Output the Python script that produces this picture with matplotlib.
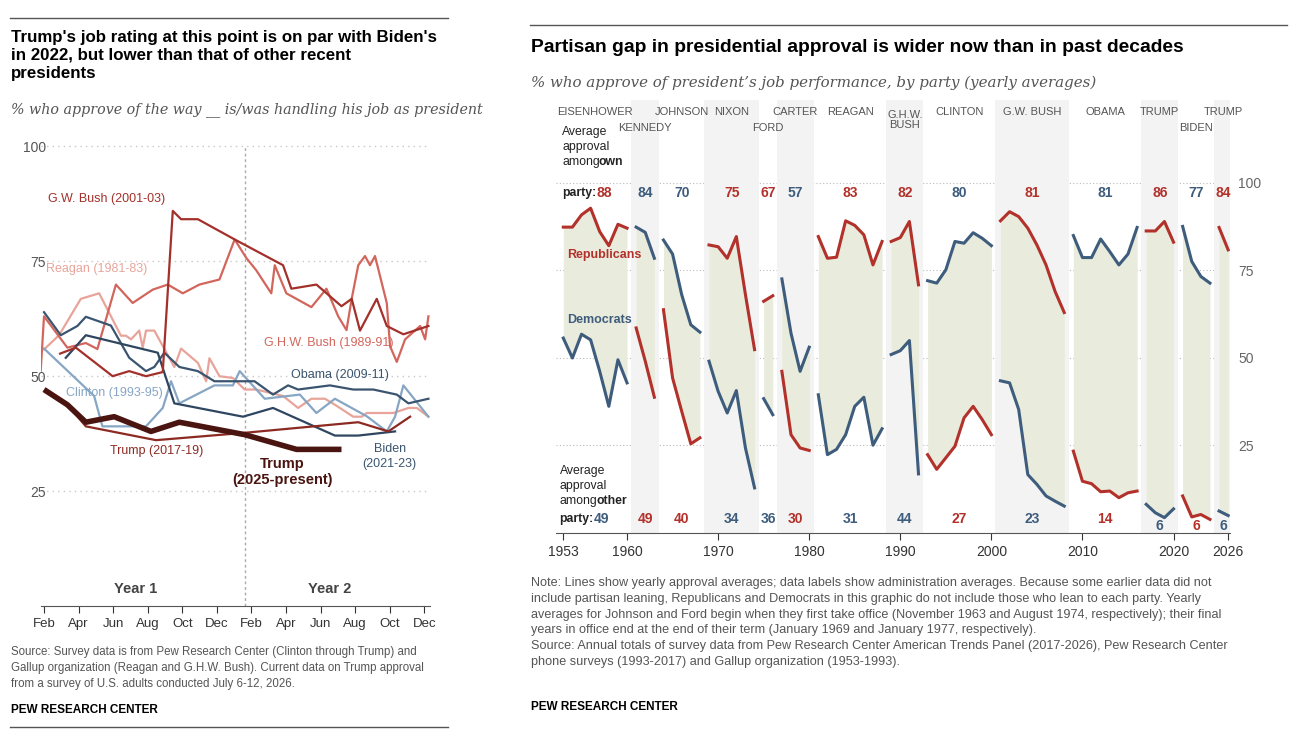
import matplotlib.pyplot as plt
from matplotlib.lines import Line2D

plt.rcParams['font.family'] = ['Liberation Sans', 'DejaVu Sans']

RED = "#b2312b"
BLUE = "#3e5c7c"

# ---- left chart data: months since February of year 1, approval %
months = ["Feb", "Apr", "Jun", "Aug", "Oct", "Dec"] * 2
trump25_m = [0, 1.35, 2.42, 4.06, 6.19, 7.83, 11.61, 14.61, 17.21]
trump25_v = [47.1, 43.8, 40.0, 41.2, 38.0, 40.0, 37.3, 34.1, 34.1]
trump17_m = [1.26, 2.42, 6.48, 11.61, 18.18, 19.92, 21.18]
trump17_v = [44.2, 39.1, 36.1, 37.7, 40.0, 38.0, 41.2]
gwbush_m = [0.93, 1.84, 3.97, 4.93, 5.90, 6.87, 7.45, 7.93, 8.90, 11.03, 13.83, 14.31,
            15.76, 17.21, 17.80, 18.28, 19.25, 19.83, 20.79, 22.24]
gwbush_v = [54.9, 56.2, 50.0, 51.1, 50.0, 50.9, 85.9, 84.1, 84.1, 79.7, 74.1, 69.0,
            69.9, 65.2, 66.8, 59.9, 66.8, 60.9, 59.1, 60.9]
ghwb_m = [-0.19, 0, 1.35, 2.42, 3.09, 4.16, 5.13, 6.29, 7.16, 8.03, 8.99, 10.15, 11.03,
          11.70, 12.28, 13.15, 13.35, 14.02, 15.47, 16.34, 17.02, 17.50, 17.80, 18.18,
          18.57, 18.86, 19.15, 19.83, 20.02, 20.41, 20.89, 21.76, 22.05, 22.24]
ghwb_v = [51.2, 63.0, 56.2, 57.2, 55.9, 69.9, 65.9, 68.8, 69.9, 68.0, 69.9, 71.0, 79.7,
          75.7, 73.0, 68.0, 74.1, 68.0, 65.0, 69.0, 63.0, 60.0, 66.8, 74.1,
          76.1, 74.1, 76.1, 65.9, 56.5, 53.1, 58.0, 60.9, 58.0, 63.0]
reagan_m = [0, 0.87, 2.13, 3.19, 4.45, 4.74, 5.03, 5.51, 5.71, 5.90, 6.38, 7.54, 7.93,
            8.90, 9.38, 9.57, 10.15, 10.93, 11.61, 12.28, 13.06, 13.83, 14.70, 15.47,
            16.25, 16.83, 17.89, 18.38, 18.67, 20.21, 21.08, 21.57, 22.24]
reagan_v = [55.8, 58.9, 66.8, 68.0, 58.8, 58.8, 58.0, 59.9, 56.2, 59.9, 59.9, 52.0, 56.0,
            52.9, 48.9, 53.9, 50.0, 49.6, 47.1, 47.1, 46.4, 45.7, 43.1, 45.1,
            45.1, 43.8, 41.2, 41.2, 42.0, 42.0, 43.1, 43.1, 41.2]
obama_m = [0, 0.97, 1.93, 2.42, 3.87, 4.93, 5.90, 6.38, 6.96, 7.83, 8.90, 9.86, 12.18,
           13.25, 14.12, 14.70, 16.54, 17.89, 19.05, 20.41, 21.08, 22.24]
obama_v = [63.9, 58.9, 60.9, 62.9, 61.0, 54.0, 51.1, 52.0, 55.1, 52.0, 51.1, 48.9, 48.9,
           46.0, 48.0, 47.1, 48.0, 47.1, 47.1, 46.0, 44.1, 45.1]
biden_m = [1.26, 2.42, 6.58, 7.54, 11.51, 13.25, 16.83, 18.18, 20.31]
biden_v = [54.0, 58.9, 55.1, 44.1, 41.2, 43.1, 37.1, 37.1, 38.0]
clinton_m = [0, 2.90, 3.38, 5.90, 6.87, 7.35, 7.83, 9.86, 10.93, 11.32, 12.77, 14.80,
             15.76, 16.83, 18.67, 19.83, 20.31, 20.79, 22.24]
clinton_v = [56.0, 45.7, 39.1, 39.1, 43.1, 48.9, 44.1, 48.0, 48.0, 51.1, 45.1, 46.0,
             42.0, 45.1, 41.3, 38.0, 41.2, 48.0, 41.2]

# ---- right chart data: yearly averages by party
admins = ["EISENHOWER", "KENNEDY", "JOHNSON", "NIXON", "FORD", "CARTER", "REAGAN",
          "G.H.W.\nBUSH", "CLINTON", "G.W. BUSH", "OBAMA", "TRUMP", "BIDEN", "TRUMP"]
start_years = [1953, 1961, 1964, 1969, 1975, 1977, 1981, 1989, 1993, 2001, 2009, 2017, 2021, 2025]
party = ["R", "D", "D", "R", "R", "D", "R", "R", "D", "R", "D", "R", "D", "R"]
rep = [[87.3, 87.3, 90.8, 92.7, 86.0, 82.0, 88.1, 87.0], [58.5, 49.0, 38.7],
       [63.7, 44.2, 34.7, 25.4, 27.1], [82.2, 81.7, 78.4, 84.6, 68.0, 52.3], [66.1, 67.7],
       [46.1, 28.0, 24.2, 23.5], [84.6, 78.4, 78.7, 89.1, 87.8, 85.1, 76.5, 83.2],
       [83.2, 84.3, 88.9, 70.8], [22.3, 18.1, 21.4, 24.7, 32.8, 36.1, 32.3, 28.0],
       [89.1, 91.7, 90.3, 87.0, 82.2, 76.5, 68.9, 62.9],
       [23.3, 14.7, 14.0, 11.7, 11.9, 10.0, 11.4, 11.9], [86.2, 86.2, 88.9, 83.0],
       [10.5, 4.5, 5.2, 3.8], [87.2, 80.8]]
dem = [[55.6, 49.9, 56.7, 55.1, 46.1, 36.1, 49.4, 42.8], [87.3, 85.8, 78.4],
       [83.6, 79.6, 68.0, 59.4, 57.3], [49.0, 40.4, 34.2, 40.6, 24.2, 12.8], [38.3, 33.7],
       [72.5, 57.0, 46.1, 53.0], [39.4, 22.3, 23.8, 28.0, 36.1, 38.7, 25.0, 29.7],
       [50.9, 52.0, 54.9, 16.8], [72.0, 71.3, 75.1, 83.2, 82.7, 85.7, 84.1, 82.0],
       [43.4, 42.8, 35.2, 16.6, 13.8, 10.5, 9.0, 7.6],
       [84.9, 78.6, 78.6, 83.9, 80.3, 76.5, 79.6, 87.2], [8.1, 5.7, 4.3, 6.8],
       [87.5, 77.5, 73.2, 71.3], [6.2, 4.9]]
own_avg = [88, 84, 70, 75, 67, 57, 83, 82, 80, 81, 81, 86, 77, 84]
other_avg = [49, 49, 40, 34, 36, 30, 31, 44, 27, 23, 14, 6, 6, 6]
year_ticks = [1953, 1960, 1970, 1980, 1990, 2000, 2010, 2020, 2026]

fig = plt.figure(figsize=(13.08, 7.44), dpi=100)

# ---------------- left panel
ax = fig.add_axes([0.031, 0.185, 0.298, 0.620])
for y in [25, 50, 75, 100]:
    ax.axhline(y, color="#c8c8c8", ls=(0, (1, 3)), lw=1, zorder=0)
ax.axvline(11.6, color="#aaaaaa", ls=(0, (2, 2)), lw=1, zorder=0)
ax.plot(reagan_m, reagan_v, color="#e8a49a", lw=1.6)
ax.plot(ghwb_m, ghwb_v, color="#d2665c", lw=1.6)
ax.plot(clinton_m, clinton_v, color="#87a6c4", lw=1.6)
ax.plot(obama_m, obama_v, color="#3b5570", lw=1.6)
ax.plot(biden_m, biden_v, color="#2f4660", lw=1.6)
ax.plot(gwbush_m, gwbush_v, color="#a3302a", lw=1.6)
ax.plot(trump17_m, trump17_v, color="#8c2a22", lw=1.6)
ax.plot(trump25_m, trump25_v, color="#4a1410", lw=4, solid_capstyle="butt")
ax.set_xlim(-0.2, 22.35)
ax.set_ylim(0, 100.2)
ax.set_yticks([25, 50, 75, 100])
ax.set_xticks(range(0, 23, 2))
ax.set_xticklabels(months)
ax.tick_params(axis="y", length=0, labelsize=10, colors="#555555", pad=-4)
ax.tick_params(axis="x", length=5, labelsize=9.5, colors="#333333", direction="out")
for s in ["top", "right", "left"]:
    ax.spines[s].set_visible(False)
ax.spines["bottom"].set_color("#555555")
ax.text(3.6, 88.5, "G.W. Bush (2001-03)", color="#a3302a", fontsize=9, ha="center", va="center")
ax.text(0.1, 73.3, "Reagan (1981-83)", color="#e8a49a", fontsize=9, va="center")
ax.text(12.7, 57.2, "G.H.W. Bush (1989-91)", color="#d2665c", fontsize=9, va="center")
ax.text(14.3, 50.2, "Obama (2009-11)", color="#3b5570", fontsize=9, va="center")
ax.text(1.3, 46.3, "Clinton (1993-95)", color="#87a6c4", fontsize=9, va="center")
ax.text(3.8, 33.7, "Trump (2017-19)", color="#8c2a22", fontsize=9, va="center")
ax.text(13.8, 32.5, "Trump\n(2025-present)", color="#4a1410", fontsize=10.5,
        fontweight="bold", ha="center", va="top", linespacing=1.2)
ax.text(20.0, 35.5, "Biden\n(2021-23)", color="#3b5570", fontsize=9, ha="center",
        va="top", linespacing=1.3)
ax.text(5.3, 3, "Year 1", fontsize=10.5, fontweight="bold", color="#444444", ha="center")
ax.text(16.5, 3, "Year 2", fontsize=10.5, fontweight="bold", color="#444444", ha="center")

fig.add_artist(Line2D([10/1308, 448/1308], [1 - 18/744] * 2, color="#555555", lw=1))
fig.add_artist(Line2D([10/1308, 448/1308], [1 - 727/744] * 2, color="#555555", lw=1))
fig.text(11/1308, 1 - 30/744, "Trump's job rating at this point is on par with Biden's\n"
         "in 2022, but lower than that of other recent\npresidents",
         fontsize=12.2, fontweight="bold", va="top", linespacing=1.25)
fig.text(11/1308, 1 - 110/744, "% who approve of the way __ is/was handling his job as president",
         fontsize=10.3, style="italic", family="DejaVu Serif", color="#555555", va="center")
fig.text(11/1308, 1 - 646/744, "Source: Survey data is from Pew Research Center (Clinton through Trump) and\n"
         "Gallup organization (Reagan and G.H.W. Bush). Current data on Trump approval\n"
         "from a survey of U.S. adults conducted July 6-12, 2026.",
         fontsize=8.3, color="#555555", va="top", linespacing=1.45)
fig.text(11/1308, 1 - 710/744, "PEW RESEARCH CENTER", fontsize=8.5, fontweight="bold", va="center")

# ---------------- right panel
ax2 = fig.add_axes([556/1308, 0.284, 674/1308, 0.582])
for y in [25, 50, 75, 100]:
    ax2.axhline(y, color="#bbbbbb", ls=(0, (1, 2)), lw=0.8, zorder=0)
second_row = {"KENNEDY", "FORD", "BIDEN"}
for i, name in enumerate(admins):
    yrs = list(range(start_years[i], start_years[i] + len(rep[i])))
    x0, x1 = yrs[0], yrs[-1]
    if i % 2 == 1:
        ax2.axvspan(x0 - 0.55, x1 + 0.5, color="#f3f3f3", zorder=0, lw=0)
    ax2.fill_between(yrs, rep[i], dem[i], color="#e9ebdc", zorder=1, lw=0)
    ax2.plot(yrs, rep[i], color=RED, lw=2.2, zorder=3)
    ax2.plot(yrs, dem[i], color=BLUE, lw=2.2, zorder=3)
    xc = (x0 + x1) / 2
    ty = 115.5 if name in second_row else 120.2
    if name == "G.H.W.\nBUSH":
        ty = 118.0
    ax2.text(xc, ty, name, ha="center", va="center", fontsize=8, color="#555555",
             linespacing=1.0)
    own_c = RED if party[i] == "R" else BLUE
    oth_c = BLUE if party[i] == "R" else RED
    if i > 0:
        ax2.text(xc, 97, str(own_avg[i]), ha="center", va="center", fontsize=10,
                 fontweight="bold", color=own_c)
        oy = 2.0 if other_avg[i] == 6 else 3.8
        ax2.text(xc, oy, str(other_avg[i]), ha="center", va="center", fontsize=10,
                 fontweight="bold", color=oth_c)
lab_kw = dict(fontsize=8.8, color="#222222")
ax2.text(1952.9, 104.3, "Average\napproval\namong", va="bottom", linespacing=1.3, **lab_kw)
ax2.text(1956.9, 104.3, "own", va="bottom", fontweight="bold", **lab_kw)
ax2.text(1952.9, 97, "party:", va="center", fontweight="bold", **lab_kw)
ax2.text(1956.6, 97, str(own_avg[0]), fontsize=10, fontweight="bold", color=RED,
         ha="left", va="center")
ax2.text(1952.6, 7.4, "Average\napproval\namong", va="bottom", linespacing=1.3, **lab_kw)
ax2.text(1956.6, 7.4, "other", va="bottom", fontweight="bold", **lab_kw)
ax2.text(1952.6, 3.8, "party:", va="center", fontweight="bold", **lab_kw)
ax2.text(1956.3, 3.8, str(other_avg[0]), fontsize=10, fontweight="bold", color=BLUE,
         ha="left", va="center")
ax2.text(1953.4, 78.5, "Republicans", color=RED, fontsize=9, fontweight="bold")
ax2.text(1953.4, 60, "Democrats", color=BLUE, fontsize=9, fontweight="bold")
ax2.set_xlim(1952.2, 2026.2)
ax2.set_ylim(0, 123.7)
ax2.set_xticks(year_ticks)
ax2.set_yticks([25, 50, 75, 100])
ax2.yaxis.tick_right()
ax2.tick_params(axis="y", length=0, labelsize=10, colors="#666666", pad=6)
ax2.tick_params(axis="x", length=5, labelsize=10, colors="#333333")
for s in ["top", "right", "left"]:
    ax2.spines[s].set_visible(False)
ax2.spines["bottom"].set_color("#555555")

fig.add_artist(Line2D([530/1308, 1287/1308], [1 - 25/744] * 2, color="#555555", lw=1))
fig.text(531/1308, 1 - 48/744, "Partisan gap in presidential approval is wider now than in past decades",
         fontsize=13.9, fontweight="bold", va="center")
fig.text(531/1308, 1 - 83/744, "% who approve of president\u2019s job performance, by party (yearly averages)",
         fontsize=10.8, style="italic", family="DejaVu Serif", color="#555555", va="center")
fig.text(531/1308, 1 - 577/744,
         "Note: Lines show yearly approval averages; data labels show administration averages. Because some earlier data did not\n"
         "include partisan leaning, Republicans and Democrats in this graphic do not include those who lean to each party. Yearly\n"
         "averages for Johnson and Ford begin when they first take office (November 1963 and August 1974, respectively); their final\n"
         "years in office end at the end of their term (January 1969 and January 1977, respectively).\n"
         "Source: Annual totals of survey data from Pew Research Center American Trends Panel (2017-2026), Pew Research Center\n"
         "phone surveys (1993-2017) and Gallup organization (1953-1993).",
         fontsize=9.1, color="#555555", va="top", linespacing=1.42)
fig.text(531/1308, 1 - 707/744, "PEW RESEARCH CENTER", fontsize=8.5, fontweight="bold", va="center")

fig.savefig("out.png", dpi=100)
